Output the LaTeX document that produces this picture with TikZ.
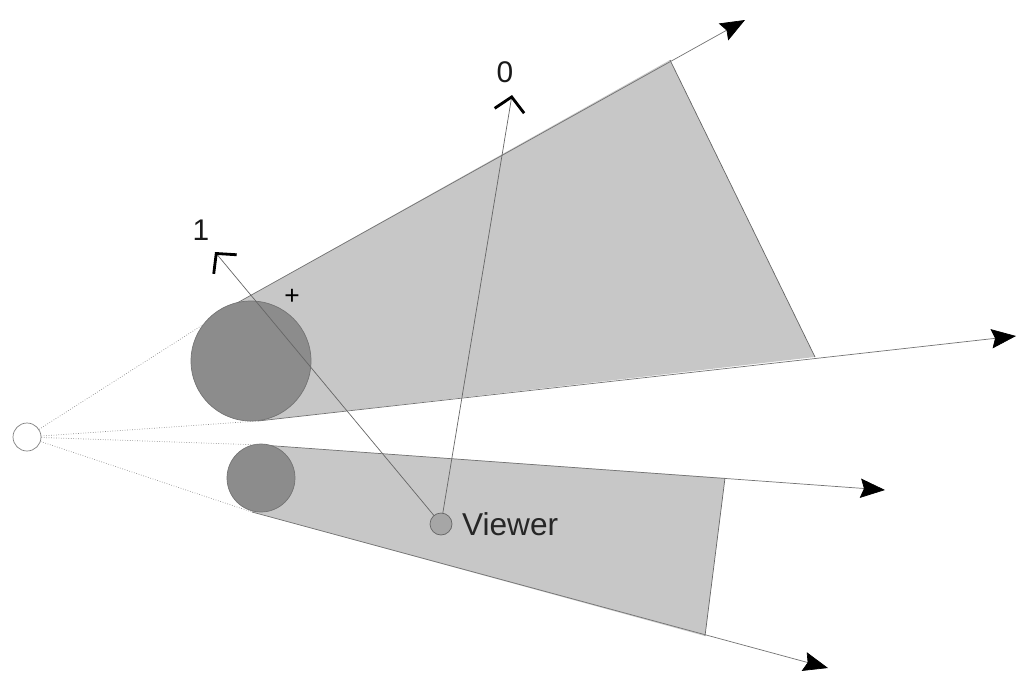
\documentclass[tikz,border=0pt]{standalone}
\usepackage{fontspec}
\setmainfont{Liberation Sans}
\usetikzlibrary{arrows.meta,calc,positioning}

\tikzset{
  ray/.style={draw=black!55,thin,-{Stealth[length=14pt,width=11pt,inset=2pt,black]}},
  sight/.style={draw=black!60,thin,-{Straight Barb[length=8pt,width=17pt,line width=1.6pt,black]}},
  guide/.style={draw=black!45,densely dotted,thin},
  blocker/.style={circle,fill=black!45,draw=black!55,thin,inner sep=0pt},
  numlabel/.style={font=\fontsize{17}{19}\selectfont,text=black!90},
}

\begin{document}
\begin{tikzpicture}[x=0.02cm,y=-0.02cm]
  \useasboundingbox (0,0) rectangle (1018,680);
  % corners of the two shadow cones
  \coordinate (ua) at (237,303);
  \coordinate (ub) at (670,60);
  \coordinate (uc) at (815,357);
  \coordinate (ud) at (258,421);
  \coordinate (ubtip) at (745,20);
  \coordinate (uctip) at (1016,336);
  \coordinate (la) at (262,445);
  \coordinate (lb) at (725,478);
  \coordinate (lc) at (705,636);
  \coordinate (ld) at (252,512);
  \coordinate (lbtip) at (885,490);
  \coordinate (lctip) at (828,668);
  % shadows
  \fill[black!22] (ua) -- (ub) -- (uc) -- (ud) -- cycle;
  \fill[black!22] (la) -- (lb) -- (lc) -- (ld) -- cycle;
  \draw[draw=black!60] (ub) -- (uc);
  \draw[draw=black!60] (lb) -- (lc);
  \draw[ray] (ua) -- (ubtip);
  \draw[ray] (ud) -- (uctip);
  \draw[ray] (la) -- (lbtip);
  \draw[ray] (ld) -- (lctip);
  % occluders and light
  \node[blocker,minimum size=2.4cm] (bigball) at (251,361) {};
  \node[blocker,minimum size=1.36cm] (smallball) at (261,478) {};
  \node[circle,draw=black!50,fill=white,minimum size=0.56cm,inner sep=0pt] (light) at (27,437) {};
  \draw[guide] (light) -- (ua);
  \draw[guide] (light) -- (ud);
  \draw[guide] (light) -- (la);
  \draw[guide] (light) -- (ld);
  % viewer and directions
  \coordinate (dir0) at (512,95);
  \coordinate (dir1) at (215,252);
  \draw[sight] (441,524) -- (dir0);
  \draw[sight] (441,524) -- (dir1);
  \node[circle,draw=black!60,fill=black!35,minimum size=0.44cm,inner sep=0pt] (viewer) at (441,524) {};
  \node[font=\fontsize{18}{20}\selectfont,text=black!85,right=2pt of viewer] (viewername) {Viewer};
  \node[numlabel] (lab0) at (505,72) {0};
  \node[numlabel] (lab1) at (201,230) {1};
  \node[font=\fontsize{15}{16}\selectfont] (plus) at (292,297) {+};
\end{tikzpicture}
\end{document}
